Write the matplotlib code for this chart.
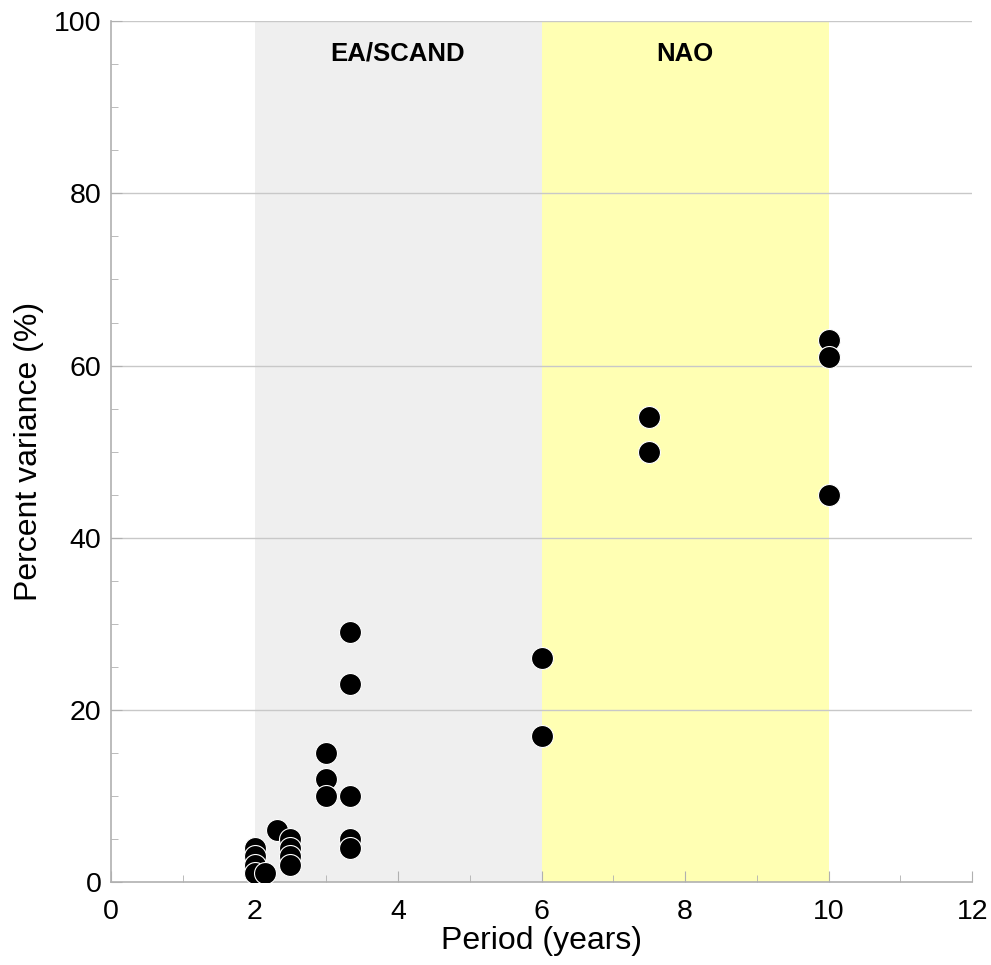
import matplotlib.pyplot as plt
from matplotlib.ticker import MultipleLocator

plt.rcParams['font.family'] = ['Liberation Sans', 'DejaVu Sans']

# period (years) and percent variance of each spectral peak
period = [2, 2, 2, 2, 2.14, 2.31, 2.5, 2.5, 2.5, 2.5,
          3, 3, 3, 3.33, 3.33, 3.33, 3.33, 3.33,
          6, 6, 7.5, 7.5, 10, 10, 10]
variance = [4, 3, 2, 1, 1, 6, 5, 4, 3, 2,
            15, 12, 10, 29, 23, 10, 5, 4,
            26, 17, 54, 50, 63, 61, 45]

bands = [(2, 6, '#efefef', 'EA/SCAND'), (6, 10, '#ffffb3', 'NAO')]

fig = plt.figure(figsize=(9.91, 9.65), dpi=100)
ax = fig.add_axes([0.112, 0.086, 0.869, 0.892])

for x0, x1, col, lab in bands:
    ax.axvspan(x0, x1, color=col, zorder=0, lw=0)
    ax.text((x0 + x1) / 2, 96.2, lab, ha='center', va='center',
            fontsize=18.5, fontweight='bold')

for yv in range(20, 101, 20):
    ax.axhline(yv, color='#c8c8c8', lw=1, zorder=1)

ax.scatter(period, variance, s=250, c='black', edgecolors='white',
           linewidths=0.8, zorder=3)

ax.set_xlim(0, 12)
ax.set_ylim(0, 100)
ax.xaxis.set_major_locator(MultipleLocator(2))
ax.xaxis.set_minor_locator(MultipleLocator(1))
ax.yaxis.set_major_locator(MultipleLocator(20))
ax.yaxis.set_minor_locator(MultipleLocator(5))
ax.tick_params(which='both', direction='in', color='#b0b0b0', labelsize=20.5)
ax.tick_params(which='major', length=8)
ax.tick_params(which='minor', length=5)
ax.tick_params(axis='x', pad=12)
ax.tick_params(axis='y', pad=7)

for side in ['top', 'right']:
    ax.spines[side].set_visible(False)
for side in ['left', 'bottom']:
    ax.spines[side].set_color('#b0b0b0')
    ax.spines[side].set_linewidth(1.2)

ax.set_xlabel('Period (years)', fontsize=23, labelpad=1)
ax.set_ylabel('Percent variance (%)', fontsize=23, labelpad=7)

fig.savefig('out.png', dpi=100)
